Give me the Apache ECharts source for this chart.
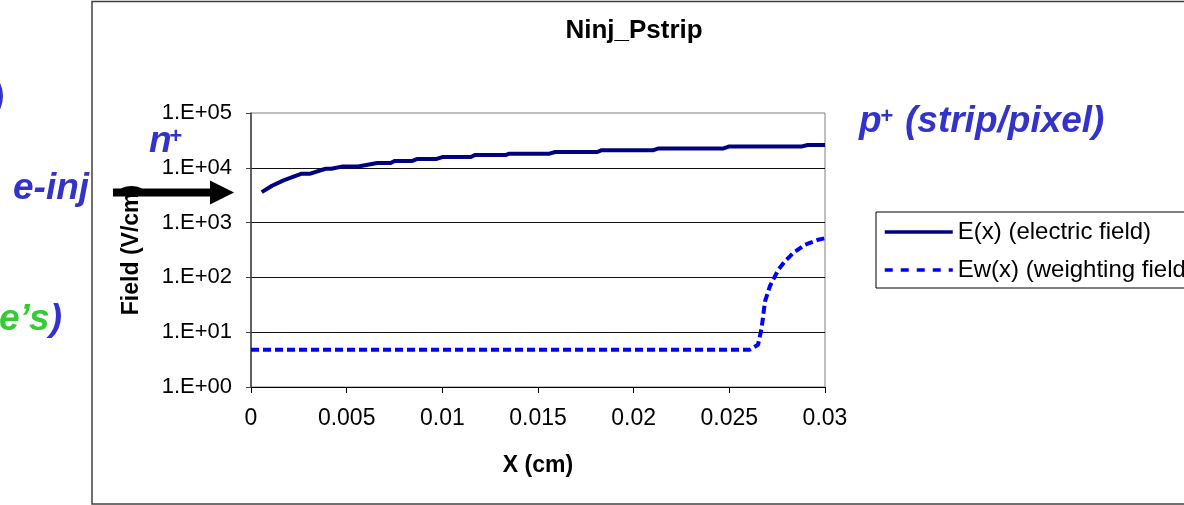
<!DOCTYPE html>
<html>
<head>
<meta charset="utf-8">
<script src="https://cdn.jsdelivr.net/npm/echarts@6/dist/echarts.min.js"></script>
<style>
html,body{margin:0;padding:0;background:#fff;}
#chart{width:1184px;height:505px;}
</style>
</head>
<body>
<div id="chart"></div>
<script>
// ---- data ----
const chartTitle = 'Ninj_Pstrip';
const seriesNames = ['E(x) (electric field)', 'Ew(x) (weighting field)'];
const xTickLabels = ['0', '0.005', '0.01', '0.015', '0.02', '0.025', '0.03'];
const yTickLabels = ['1.E+00', '1.E+01', '1.E+02', '1.E+03', '1.E+04', '1.E+05'];

// E(x) electric field, V/cm
const xE = [0.00056, 0.0011, 0.0017, 0.00265, 0.0031, 0.0039, 0.0042, 0.0048, 0.0056, 0.0066, 0.0073, 0.0075, 0.0084, 0.0087, 0.0097, 0.0100, 0.0115, 0.0117, 0.0133, 0.0135, 0.0156, 0.0159, 0.0181, 0.0183, 0.0210, 0.0213, 0.0247, 0.0250, 0.0288, 0.0291, 0.0300];
const yE = [3600, 4700, 5900, 7800, 7800, 9600, 9600, 10600, 10600, 12200, 12200, 13300, 13300, 14500, 14500, 15700, 15700, 17100, 17100, 18100, 18100, 19400, 19400, 20800, 20800, 22600, 22600, 24600, 24600, 26100, 26100];

// Ew(x) weighting field
const xEw = [0, 0.0130, 0.02608, 0.0265, 0.02669, 0.02686, 0.02712, 0.02756, 0.0279, 0.02834, 0.02895, 0.02965, 0.0300];
const yEw = [4.8, 4.8, 4.8, 5.9, 12, 36, 69, 138, 196, 279, 395, 488, 520];

// annotation texts
const annoBlue = ['e-inj', 'n', '+', 'p', '+', '(strip/pixel)', ')'];
const annoGreen = 'e\u2019s';

const FONT = '"Liberation Sans", Arial, sans-serif';
const BLUE = '#3333CC';

const chart = echarts.init(document.getElementById('chart'), null, {renderer: 'canvas'});

const option = {
  backgroundColor: '#ffffff',
  animation: false,
  textStyle: {fontFamily: FONT, color: '#000'},
  title: {
    text: chartTitle,
    left: 634,
    top: 18,
    padding: 0,
    textAlign: 'center',
    textStyle: {fontFamily: FONT, fontSize: 26, fontWeight: 'bold', color: '#000'}
  },
  legend: {
    orient: 'vertical',
    left: 876,
    top: 212,
    padding: [8, 12, 6, 7],
    itemWidth: 68,
    itemHeight: 22,
    itemGap: 14,
    borderColor: '#000',
    borderWidth: 1,
    backgroundColor: '#fff',
    itemStyle: {opacity: 0},
    data: [
      {name: seriesNames[0], lineStyle: {width: 3.5, type: 'solid'}},
      {name: seriesNames[1], lineStyle: {width: 3.5, type: [8, 8]}}
    ],
    textStyle: {fontFamily: FONT, fontSize: 24, color: '#000'}
  },
  grid: {
    left: 251,
    right: 359,
    top: 113,
    bottom: 118,
    show: true,
    borderColor: '#808080',
    borderWidth: 1
  },
  xAxis: {
    type: 'value',
    min: 0,
    max: 0.03,
    interval: 0.005,
    name: 'X (cm)',
    nameLocation: 'middle',
    nameGap: 67,
    nameTextStyle: {fontFamily: FONT, fontSize: 23, fontWeight: 'bold', color: '#000'},
    axisLine: {show: true, onZero: false, lineStyle: {color: '#000', width: 1}},
    axisTick: {show: true, inside: false, length: 6, lineStyle: {color: '#000'}},
    axisLabel: {
      margin: 20,
      fontFamily: FONT, fontSize: 23, color: '#000',
      formatter: function (v) { return xTickLabels[Math.round(v / 0.005)]; }
    },
    splitLine: {show: false}
  },
  yAxis: {
    type: 'log',
    logBase: 10,
    min: 1,
    max: 100000,
    name: 'Field (V/cm)',
    nameLocation: 'middle',
    nameRotate: 90,
    nameGap: 108,
    nameTextStyle: {fontFamily: FONT, fontSize: 23, fontWeight: 'bold', color: '#000'},
    axisLine: {show: true, onZero: false, lineStyle: {color: '#404040', width: 1.5}},
    axisTick: {show: true, inside: false, length: 5, lineStyle: {color: '#404040'}},
    axisLabel: {
      margin: 19,
      fontFamily: FONT, fontSize: 22, color: '#000',
      formatter: function (v) { return yTickLabels[Math.round(Math.log10(v))]; }
    },
    splitLine: {show: true, showMaxLine: false, lineStyle: {color: '#111', width: 1}},
    minorTick: {show: false}
  },
  series: [
    {
      name: seriesNames[0],
      type: 'line',
      symbol: 'none',
      showSymbol: false,
      smooth: false,
      color: '#000080',
      lineStyle: {color: '#000080', width: 4},
      data: xE.map(function (x, i) { return [x, yE[i]]; }),
      z: 3
    },
    {
      name: seriesNames[1],
      type: 'line',
      symbol: 'none',
      showSymbol: false,
      smooth: false,
      color: '#0000FF',
      lineStyle: {color: '#0000FF', width: 4, type: [8, 4]},
      data: xEw.map(function (x, i) { return [x, yEw[i]]; }),
      z: 3
    }
  ],
  graphic: [
    // outer chart frame
    {type: 'rect', z: -10, silent: true,
     shape: {x: 92, y: 1.5, width: 1200, height: 502.5},
     style: {fill: 'none', stroke: '#404040', lineWidth: 1.5}},
    // annotations
    {type: 'text', left: 13, top: 170, z: 20, silent: true,
     style: {text: annoBlue[0], fill: BLUE, font: 'italic bold 37px ' + FONT}},
    {type: 'text', left: 149, top: 123, z: 20, silent: true,
     style: {text: annoBlue[1], fill: BLUE, font: 'italic bold 37px ' + FONT}},
    {type: 'text', left: 169, top: 126, z: 20, silent: true,
     style: {text: annoBlue[2], fill: BLUE, font: 'italic bold 22px ' + FONT}},
    {type: 'text', left: 859, top: 103, z: 20, silent: true,
     style: {text: annoBlue[3], fill: BLUE, font: 'italic bold 37px ' + FONT}},
    {type: 'text', left: 880, top: 106, z: 20, silent: true,
     style: {text: annoBlue[4], fill: BLUE, font: 'italic bold 22px ' + FONT}},
    {type: 'text', left: 905, top: 103, z: 20, silent: true,
     style: {text: annoBlue[5], fill: BLUE, font: 'italic bold 37px ' + FONT}},
    {type: 'text', right: 1180, top: 81, z: 20, silent: true,
     style: {text: annoBlue[6], fill: BLUE, font: 'italic bold 37px ' + FONT}},
    {type: 'text', right: 1122, top: 301, z: 20, silent: true,
     style: {text: '{g|' + annoGreen + '}{b|)}', font: 'italic bold 37px ' + FONT,
       rich: {g: {fill: '#33CC33', font: 'italic bold 37px ' + FONT},
              b: {fill: BLUE, font: 'italic bold 37px ' + FONT}}}},
    // arrow
    {type: 'rect', z: 30, silent: true,
     shape: {x: 113, y: 188.5, width: 99, height: 8},
     style: {fill: '#000'}},
    {type: 'polygon', z: 30, silent: true,
     shape: {points: [[210, 180.5], [234, 192.5], [210, 204.5]]},
     style: {fill: '#000'}}
  ]
};

chart.setOption(option);
</script>
</body>
</html>
